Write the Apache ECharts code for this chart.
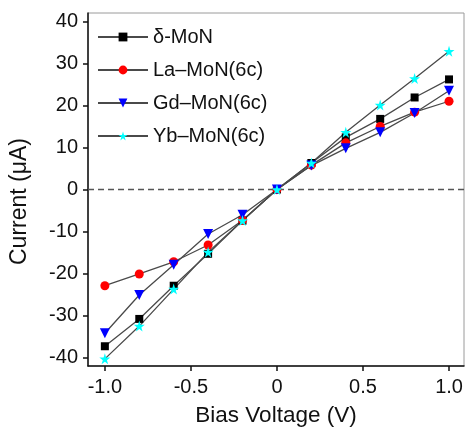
<!DOCTYPE html>
<html>
<head>
<meta charset="utf-8">
<script src="https://cdn.jsdelivr.net/npm/echarts@6/dist/echarts.min.js"></script>
<style>
  html, body { margin: 0; padding: 0; background: #fff; }
  #chart { width: 466px; height: 432px; }
</style>
</head>
<body>
<div id="chart"></div>
<script>
// Bias voltage sweep (V)
const voltage = [-1.0, -0.8, -0.6, -0.4, -0.2, 0, 0.2, 0.4, 0.6, 0.8, 1.0];

// Measured current (µA) per sample
const deltaMoN = [-37.3, -30.8, -22.9, -15.3, -7.4, 0, 6.3, 12.4, 16.8, 21.9, 26.2];
const laMoN    = [-22.9, -20.1, -17.2, -13.2, -7.3, 0, 5.8, 11.1, 15.0, 18.4, 21.0];
const gdMoN    = [-34.2, -25.1, -17.9, -10.6, -6.0, 0, 5.7, 9.8, 13.6, 18.2, 23.5];
const ybMoN    = [-40.3, -32.5, -23.7, -14.9, -7.4, 0, 6.3, 13.6, 20.1, 26.4, 32.9];

// Axis tick values
const xTicks = [-1.0, -0.5, 0, 0.5, 1.0];
const yTicks = [-40, -30, -20, -10, 0, 10, 20, 30, 40];

const FONT = '"Liberation Sans", Arial, Helvetica, sans-serif';
const STAR = 'path://M50,0 L61,35 L98,35 L68,57 L79,91 L50,70 L21,91 L32,57 L2,35 L39,35 Z';

function pairs(ys) { return voltage.map((v, i) => [v, ys[i]]); }

function makeSeries(name, ys, symbol, size, color, rotate) {
  return {
    name: name,
    type: 'line',
    data: pairs(ys),
    symbol: symbol,
    symbolSize: size,
    symbolRotate: rotate || 0,
    showAllSymbol: true,
    lineStyle: { color: '#4a4a4a', width: 1.3 },
    itemStyle: { color: color, borderWidth: 0 },
    emphasis: { disabled: true },
    z: 3
  };
}

const series = [
  makeSeries('δ-MoN', deltaMoN, 'rect', 8, '#000000'),
  makeSeries('La–MoN(6c)', laMoN, 'circle', 9, '#ff0000'),
  makeSeries('Gd–MoN(6c)', gdMoN, 'triangle', 10, '#0000ff', 180),
  makeSeries('Yb–MoN(6c)', ybMoN, STAR, 11, '#00ffff')
];

// dashed zero-current reference line
series[0].markLine = {
  silent: true,
  symbol: ['none', 'none'],
  label: { show: false },
  lineStyle: { color: '#555', type: [6, 4], width: 1.3 },
  data: [{ yAxis: 0 }],
  z: 1
};

const chart = echarts.init(document.getElementById('chart'), null, { renderer: 'canvas' });
chart.setOption({
  animation: false,
  backgroundColor: '#ffffff',
  textStyle: { fontFamily: FONT },
  grid: {
    left: 86, right: 2, top: 13, bottom: 61,
    show: true, borderColor: '#9a9a9a', borderWidth: 1, backgroundColor: 'transparent'
  },
  legend: {
    orient: 'vertical',
    left: 97, top: 27,
    padding: 0,
    itemWidth: 50, itemHeight: 11,
    itemGap: 13,
    textStyle: { fontSize: 20, color: '#111', fontFamily: FONT, lineHeight: 20 },
    data: series.map(s => s.name)
  },
  xAxis: {
    type: 'value',
    min: -1.098, max: 1.087,
    name: 'Bias Voltage (V)',
    nameLocation: 'middle',
    nameGap: 38,
    nameTextStyle: { fontSize: 22.5, color: '#111', fontFamily: FONT },
    splitLine: { show: false },
    axisLine: { show: true, onZero: false, lineStyle: { color: '#111', width: 1.5 } },
    axisTick: { show: true, length: 5, customValues: xTicks, lineStyle: { color: '#111', width: 1.5 } },
    axisLabel: {
      customValues: xTicks, margin: 11, fontSize: 20, color: '#111', fontFamily: FONT,
      formatter: v => (v === 0 ? '0' : v.toFixed(1))
    }
  },
  yAxis: {
    type: 'value',
    min: -42, max: 42,
    name: 'Current (μA)',
    nameLocation: 'middle',
    nameRotate: 90,
    nameGap: 57,
    nameTextStyle: { fontSize: 23, color: '#111', fontFamily: FONT, padding: [0, 24, 0, 0] },
    splitLine: { show: false },
    axisLine: { show: true, onZero: false, lineStyle: { color: '#111', width: 1.5 } },
    axisTick: { show: true, length: 5, customValues: yTicks, lineStyle: { color: '#111', width: 1.5 } },
    axisLabel: {
      customValues: yTicks, margin: 10, fontSize: 20, color: '#111', fontFamily: FONT,
      formatter: v => String(v)
    }
  },
  series: series
});
</script>
</body>
</html>
